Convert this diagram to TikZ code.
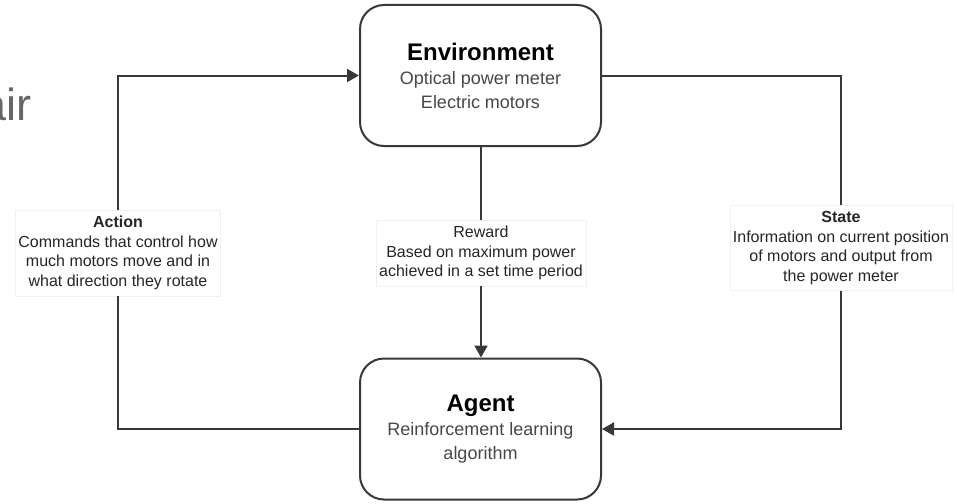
\documentclass[tikz,border=0pt]{standalone}
\usepackage{fontspec}
\setmainfont{Liberation Sans}
\usepackage{tikz}
\usetikzlibrary{arrows.meta}
\definecolor{linegray}{HTML}{383838}
\definecolor{textgray}{HTML}{262626}
\definecolor{subgray}{HTML}{474747}
\newcommand{\boxtitle}[1]{{\fontsize{24}{30}\selectfont\bfseries\color{black}#1}}

\begin{document}
\begin{tikzpicture}[x=1pt,y=-1pt,
  block/.style={draw=linegray, line width=2pt, rounded corners=24pt, fill=white,
    minimum width=241pt, minimum height=141pt, align=center, text=subgray,
    font=\fontsize{18}{24}\selectfont},
  lbl/.style={draw=black!6, fill=white, align=center, text=textgray,
    inner xsep=3pt, inner ysep=6pt, font=\fontsize{16}{19.5}\selectfont},
  flow/.style={draw=linegray, line width=2pt, -{Triangle[length=12pt,width=13pt]}}]
 \clip (0,0) rectangle (957,503);
 \node[anchor=base east, text=black!60, font=\fontsize{45}{45}\selectfont] (title) at (35,120) {air};
 \node[block] (env) at (480.5,75.5) {\boxtitle{Environment}\\ Optical power meter\\ Electric motors};
 \node[block] (agent) at (480.5,429) {\boxtitle{Agent}\\ Reinforcement learning\\ algorithm};
 \node[lbl] (action) at (118,253) {\textbf{Action}\\ Commands that control how\\ much motors move and in\\ what direction they rotate};
 \node[lbl] (reward) at (481,253) {Reward\\ Based on maximum power\\ achieved in a set time period};
 \node[lbl] (state) at (841,248) {\textbf{State}\\ Information on current position\\ of motors and output from\\ the power meter};
 \draw[flow] (agent.west) -| (action.south) (action.north) |- (env.west);
 \draw[flow] (env.south -| reward.north) -- (reward.north) (reward.south) -- (agent.north -| reward.south);
 \draw[flow] (env.east) -| (state.north) (state.south) |- (agent.east);
\end{tikzpicture}
\end{document}
